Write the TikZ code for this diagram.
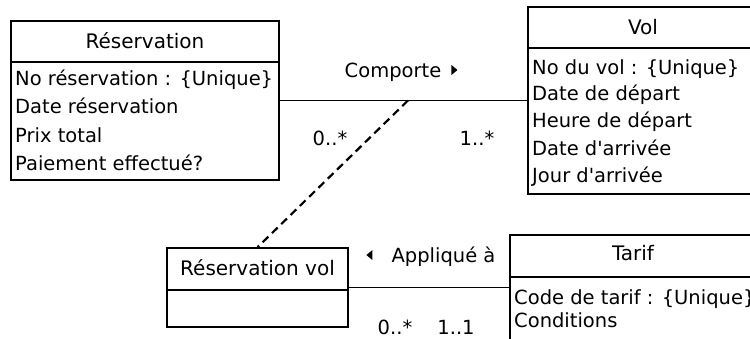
\documentclass[tikz,border=0pt]{standalone}
\usepackage{fontspec}
\setmainfont{DejaVu Sans}[Ligatures=TeXOff]
\usetikzlibrary{calc}
\begin{document}
\begin{tikzpicture}[x=1pt,y=-1pt,
  box/.style={draw, line width=1.5pt, inner sep=0pt},
  attr/.style={font=\fontsize{19.5}{23}\selectfont, inner sep=0pt, text height=14.5pt, text depth=0pt, anchor=west},
  ttl/.style={font=\fontsize{20}{24}\selectfont, inner sep=0pt, text height=14.5pt, text depth=0pt},
  conn/.style={line width=1.5pt},
  lbl/.style={font=\fontsize{19.5}{23}\selectfont, inner sep=0pt, text height=14.5pt, text depth=0pt}]
\useasboundingbox (0,0) rectangle (750,338);
\begin{scope}
\clip (0,0) rectangle (750,338);
% Réservation
\node[box, minimum width=268pt, minimum height=159pt] (res) at (145,100.5) {};
\draw[conn] (res.west |- 0,62) -- (res.east |- 0,62);
\node[ttl] (resT) at (145,41) {Réservation};
\node[attr] (resA1) at (15,78) {No réservation : \{Unique\}};
\node[attr] (resA2) at (15,106) {Date réservation};
\node[attr] (resA3) at (15,135) {Prix total};
\node[attr] (resA4) at (15,163) {Paiement effectué?};
% Vol
\node[box, minimum width=260pt, minimum height=187pt] (vol) at (658,100.5) {};
\draw[conn] (vol.west |- 0,48) -- (vol.east |- 0,48);
\node[ttl] (volT) at (643,27) {Vol};
\node[attr] (volA1) at (532,67) {No du vol : \{Unique\}};
\node[attr] (volA2) at (532,93) {Date de départ};
\node[attr] (volA3) at (532,120) {Heure de départ};
\node[attr] (volA4) at (532,148) {Date d'arrivée};
\node[attr] (volA5) at (532,175) {Jour d'arrivée};
% Réservation vol
\node[box, minimum width=181pt, minimum height=79pt] (rv) at (257.5,287.5) {};
\draw[conn] (rv.west |- 0,290) -- (rv.east |- 0,290);
\node[ttl] (rvT) at (257.5,268) {Réservation vol};
% Tarif
\node[box, minimum width=260pt, minimum height=105pt] (tar) at (640,287.5) {};
\draw[conn] (tar.west |- 0,277) -- (tar.east |- 0,277);
\node[ttl] (tarT) at (633,253) {Tarif};
\node[attr] (tarA1) at (514,297) {Code de tarif : \{Unique\}};
\node[attr] (tarA2) at (514,320) {Conditions};
% Associations
\draw[conn] (res.east) -- (vol.west);
\coordinate (mid) at ($(res.east)!0.518!(vol.west)$);
\draw[line width=2.2pt, dash pattern=on 8pt off 5pt] (mid) -- (rv.north);
\draw[conn] (rv.east) -- (tar.west);
% labels
\node[lbl] (comp) at (393,70) {Comporte};
\fill ($(comp.east)+(10,-5)$) -- ($(comp.east)+(16,0)$) -- ($(comp.east)+(10,5)$) -- cycle;
\node[lbl] (appl) at (443.5,255) {Appliqué à};
\fill ($(appl.west)+(-19,-5)$) -- ($(appl.west)+(-25,0)$) -- ($(appl.west)+(-19,5)$) -- cycle;
\node[lbl] (m1) at (330,138) {0..*};
\node[lbl] (m2) at (477,138) {1..*};
\node[lbl] (m3) at (395,327) {0..*};
\node[lbl] (m4) at (456,327) {1..1};
\end{scope}
\end{tikzpicture}
\end{document}
